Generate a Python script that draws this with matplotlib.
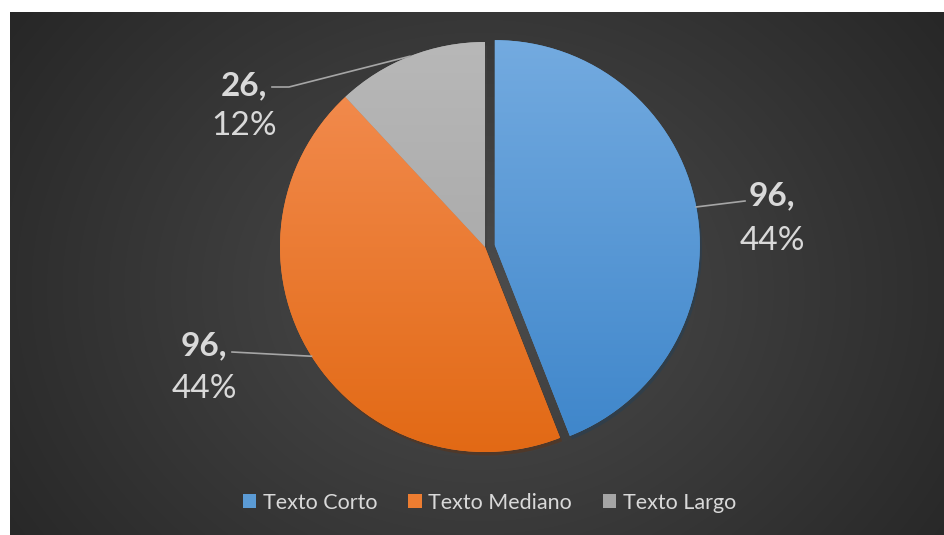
import numpy as np
import matplotlib.pyplot as plt
from matplotlib.patches import Patch
from matplotlib.colors import to_rgb

plt.rcParams['font.family'] = ['Lato', 'DejaVu Sans']

categorias = ['Texto Corto', 'Texto Mediano', 'Texto Largo']
valores = [96, 96, 26]
porcentajes = ['44%', '44%', '12%']
colores = ['#5b9bd5', '#ed7d31', '#a5a5a5']
colores_arriba = ['#74abe0', '#f48f55', '#b8b8b8']
colores_abajo = ['#3d85ca', '#e26914', '#a0a0a0']

W, H = 945, 535
fig = plt.figure(figsize=(9.45, 5.35), dpi=100)
fig.patch.set_facecolor('white')
ax = fig.add_axes([0, 0, 1, 1])

# fondo con degradado radial
px0, px1, py0, py1 = 10, 945, 0, 523
xx, yy = np.meshgrid(np.linspace(px0, px1, 400), np.linspace(py0, py1, 240))
d = np.clip(np.hypot(xx - 480, (yy - 245) * 1.2) / 620, 0, 1)
c_centro = np.array(to_rgb('#4c4c4c'))
c_borde = np.array(to_rgb('#242424'))
fondo = c_centro + (c_borde - c_centro) * d[..., None]
ax.imshow(fondo, extent=(px0, px1, py0, py1), origin='lower', zorder=0, interpolation='bilinear')

# tarta (explode en unidades de datos = pixeles)
centro = (485, 288)
radio = 205
wedges, _ = ax.pie(valores, colors=colores, startangle=90, counterclock=False,
                   explode=[10, 0, 0], center=centro, radius=radio, frame=True,
                   shadow={'ox': 1.5, 'oy': -2.5, 'shade': 0.6},
                   wedgeprops=dict(linewidth=0))

for w, ca, cb in zip(wedges, colores_arriba, colores_abajo):
    cx, cy = w.center
    t = np.linspace(0, 1, 256)[:, None]
    grad = np.array(to_rgb(cb)) + (np.array(to_rgb(ca)) - np.array(to_rgb(cb))) * t
    grad = grad[:, None, :]
    im = ax.imshow(grad, extent=(cx - w.r - 5, cx + w.r + 5, cy - w.r - 5, cy + w.r + 5),
                   origin='lower', zorder=3, aspect='auto', interpolation='bilinear')
    im.set_clip_path(w)

# etiquetas con lineas guia
lineas = [[(745, 334)], [(232, 183)], [(289, 448), (272, 448)]]
etiquetas_xy = [(772, 330, 285), (204, 180, 137), (244, 440, 400)]
for w, v, p, ln, (tx, ty1, ty2) in zip(wedges, valores, porcentajes, lineas, etiquetas_xy):
    ang = np.deg2rad((w.theta1 + w.theta2) / 2)
    cx, cy = w.center
    pts = [(cx + w.r * np.cos(ang), cy + w.r * np.sin(ang))] + ln
    ax.plot([q[0] for q in pts], [q[1] for q in pts], color='#a6a6a6', lw=1.2, zorder=4)
    ax.text(tx, ty1, f'{v},', ha='center', va='baseline', fontsize=24, fontweight='bold', color='#d9d9d9', zorder=5)
    ax.text(tx, ty2, p, ha='center', va='baseline', fontsize=24, color='#d9d9d9', zorder=5)

ax.set_xlim(0, W)
ax.set_ylim(0, H)
ax.set_aspect('auto')
ax.axis('off')

handles = [Patch(facecolor=c, edgecolor='none') for c in colores]
fig.legend(handles, categorias, loc='center', bbox_to_anchor=(0.518, 0.06), ncol=3,
           frameon=False, fontsize=15.5, labelcolor='#d9d9d9', handlelength=0.62,
           handleheight=0.62, handletextpad=0.3, columnspacing=1.45)

fig.savefig('out.png', dpi=100, facecolor='white')
